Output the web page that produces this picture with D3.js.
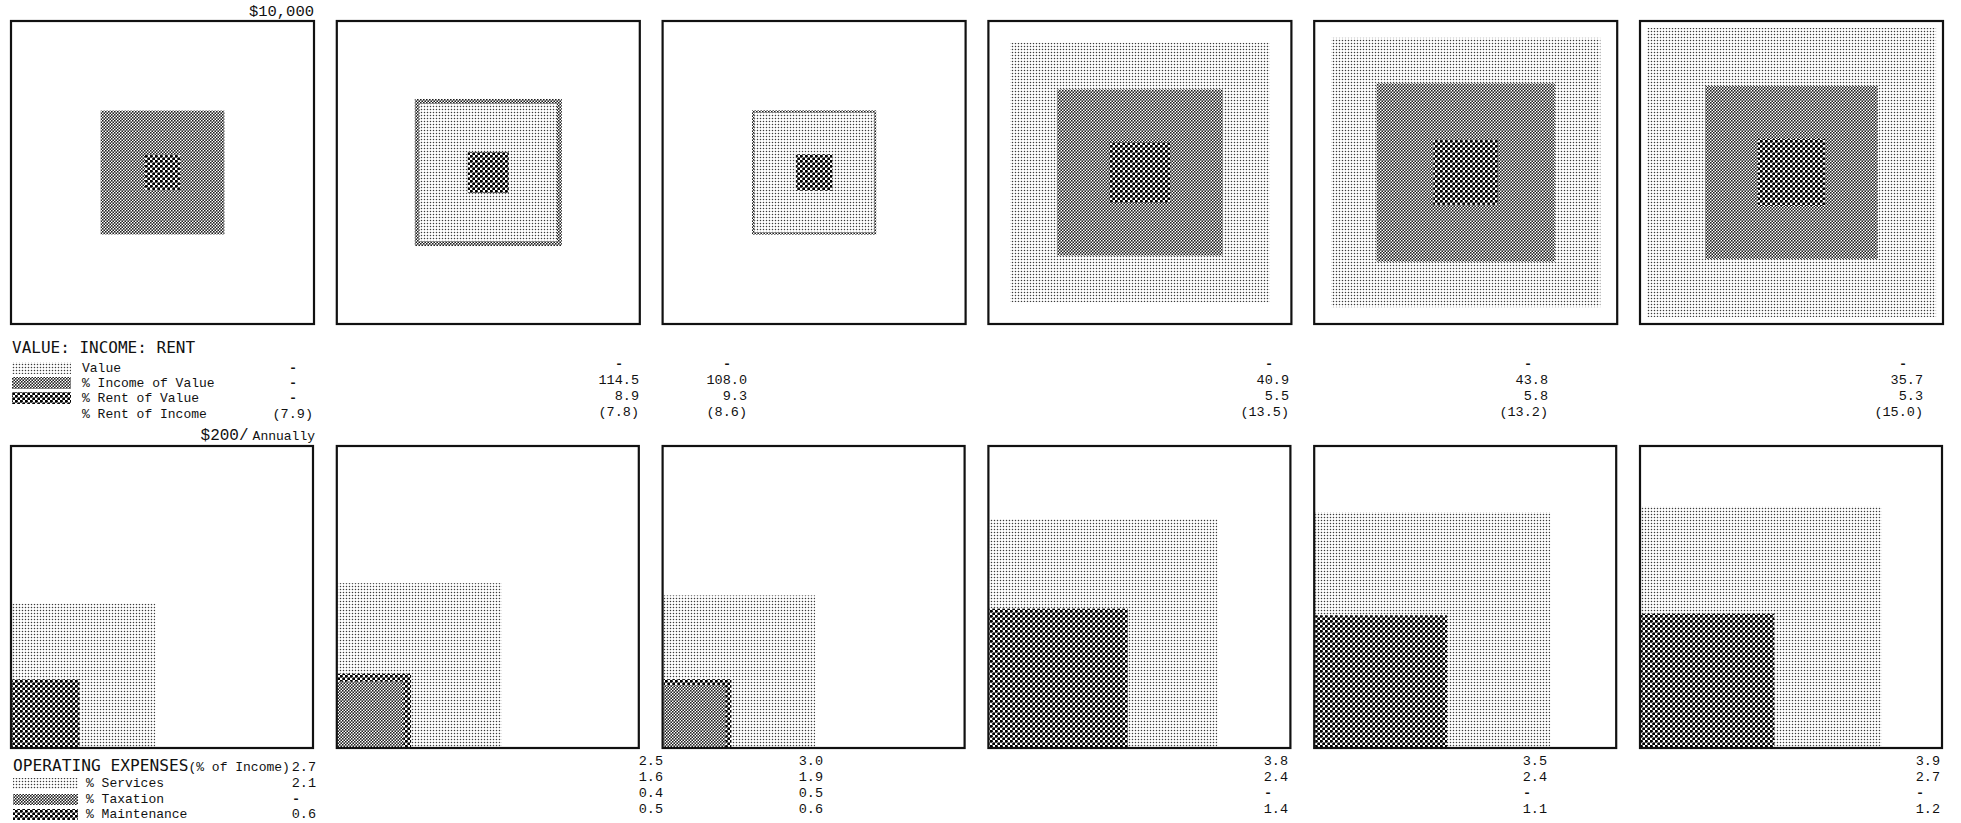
<!DOCTYPE html>
<html><head><meta charset="utf-8">
<script src="https://cdn.jsdelivr.net/npm/d3@7"></script>
<style>
html,body{margin:0;padding:0;background:#fff;}
svg{display:block;}
.mono{font-family:"Liberation Mono","Courier New",monospace;fill:#111;}
.sans{font-family:"DejaVu Sans Mono",monospace;fill:#111;}
</style></head><body>
<svg id="chart" width="1961" height="823"></svg>
<script>
// ---- data -------------------------------------------------------------
const districts = ["A", "B", "C", "D", "E", "F"];
// gross annual income of a property, dollars
const annualIncome = [1670, 2355, 1680, 3000, 3460, 3250];
// percentages printed under each panel
const incomeOfValue = [null, 114.5, 108.0, 40.9, 43.8, 35.7];
const rentOfValue = [null, 8.9, 9.3, 5.5, 5.8, 5.3];
const rentOfIncome = [7.9, 7.8, 8.6, 13.5, 13.2, 15.0];
const operatingExpenses = [2.7, 2.5, 3.0, 3.8, 3.5, 3.9];
const services = [2.1, 1.6, 1.9, 2.4, 2.4, 2.7];
const taxation = [null, 0.4, 0.5, null, null, null];
const maintenance = [0.6, 0.5, 0.6, 1.4, 1.1, 1.2];
// amount represented by a full frame
const valueScaleMax = 10000;
const expenseScaleMax = 200;

// ---- layout -----------------------------------------------------------
const topRow = { y: 21, size: 303 };
const botRow = { y: 446, size: 302 };
const topColRight = [313, 639, 747, 1289, 1548, 1923];
const botColRight = [316, 663, 823, 1288, 1547, 1940];

const svg = d3.select("#chart");
const defs = svg.append("defs");

// halftone-like dot screens
function dotPattern(id, tile, dots, r, fill) {
  const p = defs.append("pattern").attr("id", id)
    .attr("patternUnits", "userSpaceOnUse")
    .attr("width", tile).attr("height", tile);
  p.append("rect").attr("width", tile).attr("height", tile).attr("fill", "#fff");
  dots.forEach(([cx, cy]) => p.append("circle").attr("cx", cx * tile).attr("cy", cy * tile)
    .attr("r", r).attr("fill", fill));
}
dotPattern("pat-light", 3, [[0.5, 0.5]], 0.78, "#3c3c3c");
dotPattern("pat-medium", 3, [[0.25, 0.25], [0.75, 0.75]], 0.9, "#1a1a1a");
dotPattern("pat-coarse", 5, [[0.25, 0.25], [0.75, 0.75]], 1.6, "#000");

const fills = { value: "url(#pat-light)", income: "url(#pat-medium)", rent: "url(#pat-coarse)",
  total: "url(#pat-light)", taxation: "url(#pat-medium)", maintenance: "url(#pat-coarse)" };

const x = d3.scaleBand().domain(districts).range([11, 1943]).paddingInner(0.07);
const sideTop = d3.scaleSqrt().domain([0, valueScaleMax]).range([0, topRow.size]);
const sideBot = d3.scaleSqrt().domain([0, expenseScaleMax]).range([0, botRow.size]);

const fmt = v => v == null ? "-" : v.toFixed(1);

// ---- top row: value / income / rent, nested squares -------------------
districts.forEach((d, i) => {
  const x0 = x(d), s = topRow.size, cx = x0 + s / 2, cy = topRow.y + s / 2;
  const inc = annualIncome[i];
  const items = [
    { key: "income", amt: inc },
    { key: "rent", amt: inc * rentOfIncome[i] / 100 }
  ];
  if (incomeOfValue[i] != null) items.push({ key: "value", amt: inc / (incomeOfValue[i] / 100) });
  items.sort((a, b) => b.amt - a.amt);
  const g = svg.append("g");
  g.selectAll("rect").data(items).join("rect")
    .attr("x", e => cx - sideTop(e.amt) / 2)
    .attr("y", e => cy - sideTop(e.amt) / 2)
    .attr("width", e => sideTop(e.amt))
    .attr("height", e => sideTop(e.amt))
    .attr("fill", e => fills[e.key]);
  g.append("rect").attr("x", x0).attr("y", topRow.y).attr("width", s).attr("height", s)
    .attr("fill", "none").attr("stroke", "#111").attr("stroke-width", 2.2);
});

// ---- bottom row: operating expenses, squares from lower-left ----------
districts.forEach((d, i) => {
  const x0 = x(d), s = botRow.size, base = botRow.y + s;
  const inc = annualIncome[i];
  const items = [{ key: "total", amt: inc * operatingExpenses[i] / 100 },
                 { key: "maintenance", amt: inc * maintenance[i] / 100 }];
  if (taxation[i] != null) items.push({ key: "taxation", amt: inc * taxation[i] / 100 });
  items.sort((a, b) => b.amt - a.amt);
  const g = svg.append("g");
  g.selectAll("rect").data(items).join("rect")
    .attr("x", x0 + 1)
    .attr("y", e => base - 1 - sideBot(e.amt))
    .attr("width", e => sideBot(e.amt))
    .attr("height", e => sideBot(e.amt))
    .attr("fill", e => fills[e.key]);
  g.append("rect").attr("x", x0).attr("y", botRow.y).attr("width", s).attr("height", s)
    .attr("fill", "none").attr("stroke", "#111").attr("stroke-width", 2.2);
});

// ---- scale notes ------------------------------------------------------
svg.append("text").attr("class", "mono").attr("x", x(districts[0]) + topRow.size).attr("y", 16)
  .attr("text-anchor", "end").attr("font-size", 15.5).text("$10,000");
const sc = svg.append("text").attr("class", "mono").attr("x", x(districts[0]) + botRow.size + 2)
  .attr("y", 440).attr("text-anchor", "end");
sc.append("tspan").attr("font-size", 16).text("$200/");
sc.append("tspan").attr("font-size", 13).attr("dx", 4).text("Annually");

// ---- legends ----------------------------------------------------------
svg.append("text").attr("class", "sans").attr("x", 12).attr("y", 353)
  .attr("font-size", 16).text("VALUE: INCOME: RENT");
const topLegend = [
  { label: "Value", fill: fills.value },
  { label: "% Income of Value", fill: fills.income },
  { label: "% Rent of Value", fill: fills.rent },
  { label: "% Rent of Income", fill: null }
];
const topLegendY = [372, 387, 402, 418];
topLegend.forEach((l, k) => {
  if (l.fill) svg.append("rect").attr("x", 12).attr("y", topLegendY[k] - 10)
    .attr("width", 59).attr("height", 12).attr("fill", l.fill);
  svg.append("text").attr("class", "mono").attr("x", 82).attr("y", topLegendY[k])
    .attr("font-size", 13).text(l.label);
});

const bt = svg.append("text").attr("y", 771).attr("x", 13);
bt.append("tspan").attr("class", "sans").attr("font-size", 16.2).text("OPERATING EXPENSES");
bt.append("tspan").attr("class", "mono").attr("font-size", 13).text("(% of Income)");
const botLegend = [
  { label: "% Services", fill: fills.total },
  { label: "% Taxation", fill: fills.taxation },
  { label: "% Maintenance", fill: fills.maintenance }
];
const botLegendY = [787, 803, 818];
botLegend.forEach((l, k) => {
  svg.append("rect").attr("x", 13).attr("y", botLegendY[k] - 9)
    .attr("width", 65).attr("height", 11).attr("fill", l.fill);
  svg.append("text").attr("class", "mono").attr("x", 86).attr("y", botLegendY[k])
    .attr("font-size", 13).text(l.label);
});

// ---- value columns ----------------------------------------------------
function column(right, ys, vals) {
  vals.forEach((v, k) => {
    const t = svg.append("text").attr("class", "mono").attr("font-size", 13.5).attr("y", ys[k]);
    if (v === "-") t.attr("x", right - 20).attr("text-anchor", "middle").attr("font-weight", "bold").text("-");
    else t.attr("x", right).attr("text-anchor", "end").text(v);
  });
}
districts.forEach((d, i) => {
  const ysTop = i === 0 ? topLegendY : [368, 384, 400, 416];
  column(topColRight[i], ysTop, ["-", fmt(incomeOfValue[i]), fmt(rentOfValue[i]), "(" + fmt(rentOfIncome[i]) + ")"]);
  const ysBot = i === 0 ? [771, 787, 803, 818] : [765, 781, 797, 813];
  column(botColRight[i], ysBot, [fmt(operatingExpenses[i]), fmt(services[i]), fmt(taxation[i]), fmt(maintenance[i])]);
});
</script>
</body></html>
